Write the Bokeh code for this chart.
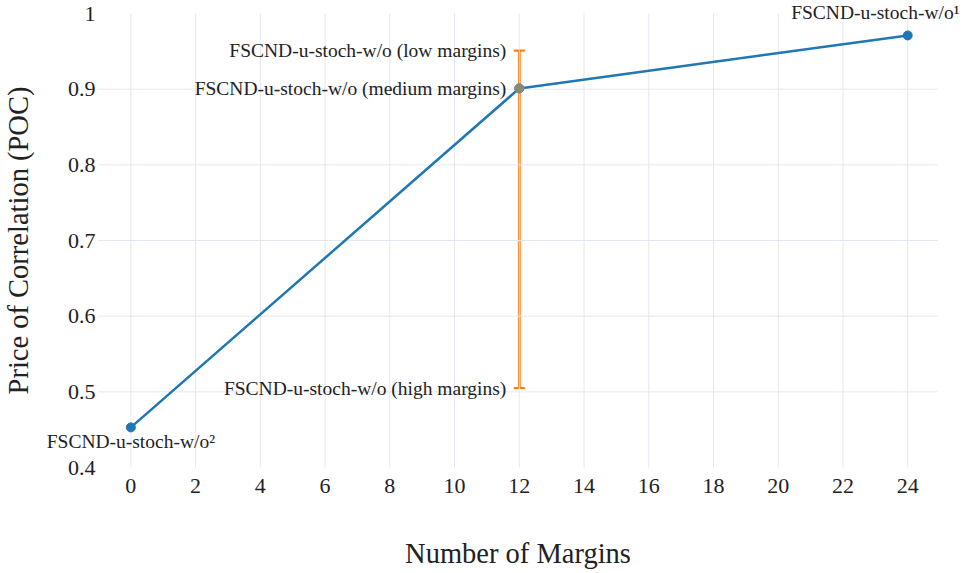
from bokeh.plotting import figure
from bokeh.models import (Range1d, FixedTicker, ColumnDataSource, Whisker, TeeHead,
                          Label, LinearAxis)
from bokeh.embed import file_html
from bokeh.resources import INLINE

# data
margins = [0, 12, 24]
poc = [0.453, 0.901, 0.971]
point_labels = ["FSCND-u-stoch-w/o\u00b2", "", "FSCND-u-stoch-w/o\u00b9"]

err_x = [12]
err_low = [0.505]
err_mid = [0.901]
err_high = [0.951]
err_labels = ["FSCND-u-stoch-w/o (low margins)",
              "FSCND-u-stoch-w/o (medium margins)",
              "FSCND-u-stoch-w/o (high margins)"]
err_label_y = [0.951, 0.901, 0.505]

x_ticks = [0, 2, 4, 6, 8, 10, 12, 14, 16, 18, 20, 22, 24]
y_ticks = [0.4, 0.5, 0.6, 0.7, 0.8, 0.9, 1.0]
y_tick_labels = ["0.4", "0.5", "0.6", "0.7", "0.8", "0.9", "1"]

FONT = "'Liberation Serif', 'Times New Roman', Times, serif"
BLUE = "#1f77b4"
ORANGE = "#ff7f0e"
GRID = "#e3e7ef"
TXT = "#222222"
ANN_SIZE = "19.5px"

# plotting region (pixels) and its data bounds; the frame fills the whole canvas
W, H = 963, 573
PX_L, PX_R, PX_T, PX_B = 98, 937, 13, 467
X_LO, X_HI = -1.0, 24.92
Y_LO, Y_HI = y_ticks[0], y_ticks[-1]
kx = (PX_R - PX_L) / (X_HI - X_LO)
ky = (PX_B - PX_T) / (Y_HI - Y_LO)

p = figure(width=W, height=H, output_backend="svg", toolbar_location=None,
           x_axis_location=None, y_axis_location=None,
           x_range=Range1d(X_LO - PX_L / kx, X_HI + (W - PX_R) / kx),
           y_range=Range1d(Y_LO - (H - PX_B) / ky, Y_HI + PX_T / ky),
           min_border=0)
p.outline_line_color = None
p.background_fill_color = "white"
p.border_fill_color = "white"
for g in p.grid:
    g.visible = False


def styled_axis(loc, ticks, standoff, size):
    ax = LinearAxis(fixed_location=loc, ticker=FixedTicker(ticks=ticks))
    ax.axis_line_color = None
    ax.major_tick_line_color = None
    ax.minor_tick_line_color = None
    ax.major_tick_out = 0
    ax.major_tick_in = 0
    ax.minor_tick_out = 0
    ax.minor_tick_in = 0
    ax.major_label_standoff = standoff
    ax.major_label_text_font = FONT
    ax.major_label_text_font_size = size
    ax.major_label_text_color = TXT
    ax.axis_label_text_font = FONT
    ax.axis_label_text_font_size = "28.5px"
    ax.axis_label_text_font_style = "normal"
    ax.axis_label_text_color = TXT
    return ax


# grid lines, limited to the plotting region
p.segment(x0=x_ticks, y0=[Y_LO] * len(x_ticks), x1=x_ticks, y1=[Y_HI] * len(x_ticks),
          line_color=GRID, line_width=1)
inner_y = y_ticks[1:-1]
p.segment(x0=[X_LO] * len(inner_y), y0=inner_y, x1=[X_HI] * len(inner_y), y1=inner_y,
          line_color=GRID, line_width=1)

# main axes (bounded to the plotting region so their titles are centred on it)
xax = styled_axis(Y_LO, x_ticks, 11, "22px")
xax.bounds = (X_LO, X_HI)
xax.axis_label = "Number of Margins"
xax.axis_label_standoff = 42
p.add_layout(xax, "below")

yax = styled_axis(X_LO, y_ticks, 3, "22px")
yax.bounds = (Y_LO, Y_HI)
yax.major_label_overrides = {t: l for t, l in zip(y_ticks, y_tick_labels)}
yax.axis_label = "Price of Correlation (POC)"
yax.axis_label_standoff = 31
p.add_layout(yax, "left")

# series
src = ColumnDataSource(dict(x=margins, y=poc))
p.line("x", "y", source=src, line_color=BLUE, line_width=2.5)
p.scatter("x", "y", source=src, size=9, fill_color=BLUE, line_color=BLUE)

esrc = ColumnDataSource(dict(x=err_x, lower=err_low, upper=err_high, mid=err_mid))
p.scatter("x", "mid", source=esrc, size=9, fill_color="#8d8a74", line_color="#8d8a74")
w = Whisker(source=esrc, base="x", lower="lower", upper="upper", dimension="height",
            line_color=ORANGE, line_width=2.8,
            lower_head=TeeHead(size=11, line_color=ORANGE, line_width=2.2),
            upper_head=TeeHead(size=11, line_color=ORANGE, line_width=2.2))
p.add_layout(w)

# error-bar labels
for yv, t in zip(err_label_y, err_labels):
    p.add_layout(Label(x=err_x[0], y=yv, text=t, x_offset=-13, y_offset=0,
                       text_align="right", text_baseline="middle",
                       text_font=FONT, text_font_size=ANN_SIZE, text_color=TXT))

# end-point labels
top_shift = 1  # label centred slightly left of the last point (as in the source)
top_ax = styled_axis(poc[2], [margins[2] - top_shift], 12, ANN_SIZE)
top_ax.major_label_overrides = {margins[2] - top_shift: point_labels[2]}
p.add_layout(top_ax, "above")

bot_ax = styled_axis(poc[0], [margins[0]], 4, ANN_SIZE)
bot_ax.major_label_overrides = {margins[0]: point_labels[0]}
p.add_layout(bot_ax, "below")

open("out.html", "w").write(file_html(p, INLINE))
